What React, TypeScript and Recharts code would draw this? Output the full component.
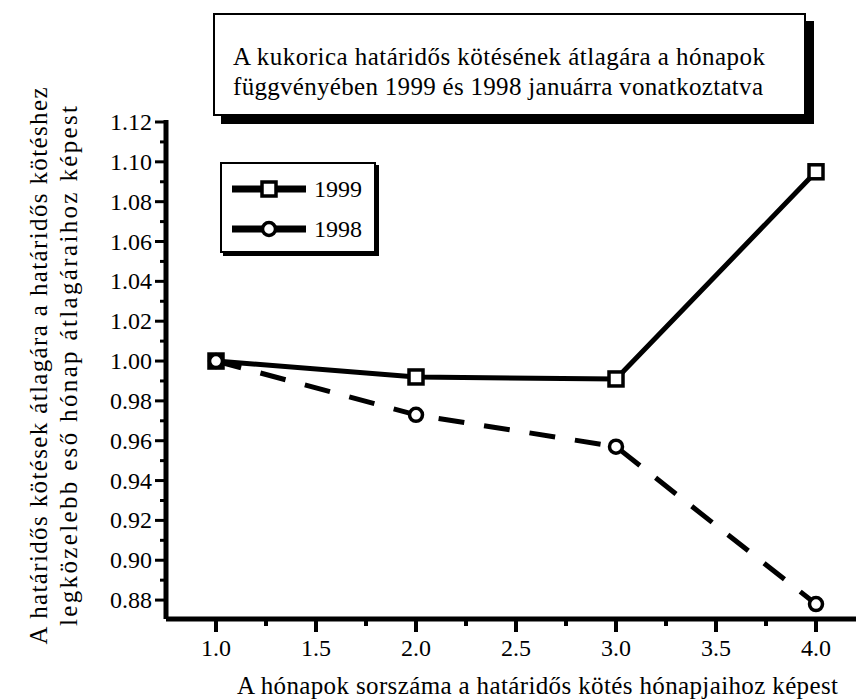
import { LineChart, Line, XAxis, YAxis, Legend } from 'recharts';

const months = [1, 2, 3, 4];
const values1999 = [1.0, 0.992, 0.991, 1.095];
const values1998 = [1.0, 0.973, 0.957, 0.878];
const xTicks = [1, 1.25, 1.5, 1.75, 2, 2.25, 2.5, 2.75, 3, 3.25, 3.5, 3.75, 4];
const yTicks = [
  0.88, 0.89, 0.9, 0.91, 0.92, 0.93, 0.94, 0.95, 0.96, 0.97, 0.98, 0.99, 1.0,
  1.01, 1.02, 1.03, 1.04, 1.05, 1.06, 1.07, 1.08, 1.09, 1.1, 1.11, 1.12,
];
const titleLines = [
  'A kukorica határidős kötésének átlagára a hónapok',
  'függvényében 1999 és 1998 januárra vonatkoztatva',
];
const yLabelLines = [
  'A határidős kötések átlagára a határidős kötéshez',
  'legközelebb eső hónap átlagáraihoz képest',
];
const xLabel = 'A hónapok sorszáma a határidős kötés hónapjaihoz képest';

const data = months.map((m, i) => ({ month: m, y1999: values1999[i], y1998: values1998[i] }));

const FONT = "Liberation Serif, Tinos, Times New Roman, Times, DejaVu Serif, serif";

function YTick(props: any) {
  const { x, y, payload } = props;
  const major = Math.round(payload.value * 100) % 2 === 0;
  return (
    <g>
      <line x1={major ? x - 11 : x - 6} x2={x} y1={y} y2={y} stroke="#000" strokeWidth={3} />
      {major && (
        <text x={x - 14} y={y} dy={8} textAnchor="end" fontSize={24} style={{ fontFamily: FONT }} fill="#000">
          {payload.value.toFixed(2)}
        </text>
      )}
    </g>
  );
}

function XTick(props: any) {
  const { x, y, payload } = props;
  const major = Math.round(payload.value * 4) % 2 === 0;
  return (
    <g>
      <line x1={x} x2={x} y1={y} y2={major ? y + 13 : y + 7} stroke="#000" strokeWidth={4} />
      {major && (
        <text x={x} y={y + 37} textAnchor="middle" fontSize={24} style={{ fontFamily: FONT }} fill="#000">
          {payload.value.toFixed(1)}
        </text>
      )}
    </g>
  );
}

function SquareDot(props: any) {
  const { cx, cy, index } = props;
  return <rect key={'s' + index} x={cx - 7} y={cy - 7} width={14} height={14} fill="#fff" stroke="#000" strokeWidth={3.5} />;
}

function CircleDot(props: any) {
  const { cx, cy, index } = props;
  return <circle key={'c' + index} cx={cx} cy={cy} r={6.5} fill="#fff" stroke="#000" strokeWidth={3.5} />;
}

function LegendBox() {
  const rows = [
    { name: '1999', shape: 'square' },
    { name: '1998', shape: 'circle' },
  ];
  return (
    <div
      style={{
        width: 152,
        height: 87,
        border: '2px solid #000',
        boxShadow: '3px 3px 0 #000',
        background: '#fff',
        boxSizing: 'content-box',
        fontFamily: FONT,
        fontSize: 24,
      }}
    >
      {rows.map((r, i) => (
        <div key={r.name} style={{ display: 'flex', alignItems: 'center', height: 40, marginTop: i === 0 ? 5 : 0 }}>
          <svg width={90} height={24} style={{ marginLeft: 8 }}>
            <line x1={2} x2={76} y1={12} y2={12} stroke="#000" strokeWidth={7} />
            {r.shape === 'square' ? (
              <rect x={32} y={5} width={14} height={14} fill="#fff" stroke="#000" strokeWidth={3.5} />
            ) : (
              <circle cx={39} cy={12} r={6.5} fill="#fff" stroke="#000" strokeWidth={3.5} />
            )}
          </svg>
          <span style={{ marginLeft: -6 }}>{r.name}</span>
        </div>
      ))}
    </div>
  );
}

const yLabelLayout = [
  { x: 41, len: 557 },
  { x: 71, len: 520 },
];
const titleLayout = [
  { y: 65, len: 532 },
  { y: 95, len: 530 },
];

export default function App() {
  return (
    <div style={{ position: 'absolute', left: 0, top: 0, width: 859, height: 699, background: '#fff', fontFamily: FONT }}>
      <LineChart width={859} height={699} data={data} margin={{ top: 120, right: 3, bottom: 0, left: 0 }}>
        <XAxis
          type="number"
          dataKey="month"
          domain={[0.75, 4.2]}
          ticks={xTicks}
          allowDataOverflow
          height={80}
          tickSize={0}
          tickMargin={0}
          tickLine={false}
          tick={<XTick />}
          axisLine={{ stroke: '#000', strokeWidth: 5 }}
          interval={0}
          label={{
            content: () => (
              <text
                x={237}
                y={694}
                textAnchor="start"
                fontSize={25}
                textLength={601}
                lengthAdjust="spacing"
                style={{ fontFamily: FONT }}
                fill="#000"
              >
                {xLabel}
              </text>
            ),
          }}
        />
        <YAxis
          type="number"
          domain={[0.8705, 1.121]}
          ticks={yTicks}
          allowDataOverflow
          width={166}
          tickSize={0}
          tickMargin={0}
          tickLine={false}
          tick={<YTick />}
          axisLine={{ stroke: '#000', strokeWidth: 5 }}
          interval={0}
          label={{
            content: () => (
              <g>
                {yLabelLines.map((t, i) => (
                  <text
                    key={i}
                    x={0}
                    y={0}
                    transform={`translate(${yLabelLayout[i].x}, 366) rotate(-90)`}
                    textAnchor="middle"
                    dominantBaseline="middle"
                    fontSize={25}
                    textLength={yLabelLayout[i].len}
                    lengthAdjust="spacing"
                    style={{ fontFamily: FONT }}
                    fill="#000"
                  >
                    {t}
                  </text>
                ))}
              </g>
            ),
          }}
        />
        <Legend
          layout="vertical"
          align="center"
          verticalAlign="middle"
          content={() => <LegendBox />}
          wrapperStyle={{ position: 'absolute', left: 220, top: 162, width: 160, height: 95 }}
        />
        <Line
          type="linear"
          dataKey="y1999"
          stroke="#000"
          strokeWidth={5}
          dot={<SquareDot />}
          isAnimationActive={false}
        />
        <Line
          type="linear"
          dataKey="y1998"
          stroke="#000"
          strokeWidth={5}
          strokeDasharray="26 20"
          dot={<CircleDot />}
          isAnimationActive={false}
        />
      </LineChart>
      <svg width={859} height={135} style={{ position: 'absolute', left: 0, top: 0 }}>
        <rect x={221} y={21} width={593} height={103} fill="#000" />
        <rect x={214} y={14} width={591} height={101} fill="#fff" stroke="#000" strokeWidth={2} />
        {titleLines.map((t, i) => (
          <text
            key={t}
            x={233}
            y={titleLayout[i].y}
            fontSize={25}
            textLength={titleLayout[i].len}
            lengthAdjust="spacing"
            style={{ fontFamily: FONT }}
            fill="#000"
          >
            {t}
          </text>
        ))}
      </svg>
    </div>
  );
}
